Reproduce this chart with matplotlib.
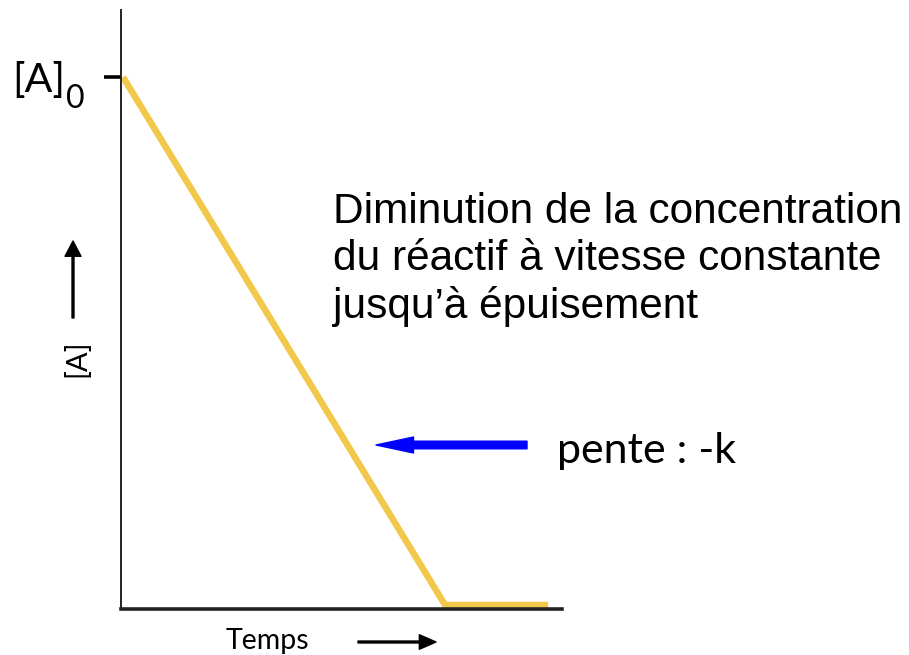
import matplotlib
matplotlib.use("Agg")
import matplotlib.pyplot as plt
from matplotlib.patches import FancyArrowPatch, ArrowStyle

# Data
time = [0, 10, 13.2]
conc = [1, 0, 0]
ytick_vals = [1]
ytick_labels = ["[A]"]
ytick_sub = "0"
x_label = "Temps"
y_label = "[A]"
note_text = "Diminution de la concentration\ndu réactif à vitesse constante\njusqu’à épuisement"
slope_text = "pente : -k"

W, H = 909, 655
fig = plt.figure(figsize=(W / 100, H / 100), dpi=100)

def px(x, y):
    return (x / W, 1 - y / H)

left, right, top, bottom = 121, 562, 10, 609
ax = fig.add_axes([left / W, 1 - bottom / H, (right - left) / W, (bottom - top) / H])
ax.plot(time, conc, color='#F1C84B', lw=4.7, solid_capstyle='butt', solid_joinstyle='round', zorder=2)
ax.set_xlim(-0.062, 13.63)
ax.set_ylim(-0.0076, 1.127)
for s in ['top', 'right']:
    ax.spines[s].set_visible(False)
ax.spines['left'].set_linewidth(1.4)
ax.spines['bottom'].set_linewidth(2.6)
ax.spines['left'].set_color('#222222')
ax.spines['bottom'].set_color('#222222')
ax.set_xticks([])
ax.set_yticks(ytick_vals)
ax.set_yticklabels(ytick_labels, fontsize=29.5, family='Lato')
ax.tick_params(axis='y', direction='out', length=12, width=2.6, pad=28, color='black')
ax.annotate(ytick_sub, xy=(0, ytick_vals[0]), xycoords=('axes fraction', 'data'),
            xytext=(-55, -31), textcoords='offset pixels', fontsize=23, family='Lato',
            ha='left', va='baseline')

# axis labels
fig.text(*px(267, 641), x_label, fontsize=20.5, family='Lato', ha='center', va='center')
fig.text(*px(77, 358), y_label, fontsize=21, family='Lato', ha='center', va='center', rotation=90)

# small black arrows
fig.patches.append(FancyArrowPatch(px(358, 642), px(436, 642), transform=fig.transFigure,
                                   arrowstyle=ArrowStyle.Simple(head_length=12, head_width=10.5, tail_width=1.4),
                                   mutation_scale=1, color='black', shrinkA=0, shrinkB=0))
fig.patches.append(FancyArrowPatch(px(73, 318), px(73, 241), transform=fig.transFigure,
                                   arrowstyle=ArrowStyle.Simple(head_length=11, head_width=11.5, tail_width=1.4),
                                   mutation_scale=1, color='black', shrinkA=0, shrinkB=0))

# blue arrow
fig.patches.append(FancyArrowPatch(px(527, 445), px(376, 445), transform=fig.transFigure,
                                   arrowstyle=ArrowStyle.Simple(head_length=27, head_width=11.5, tail_width=5.5),
                                   mutation_scale=1, color='#0000FF', shrinkA=0, shrinkB=0))

fig.text(*px(333, 192), note_text, fontsize=30.5, family='Liberation Sans', ha='left', va='top',
         linespacing=1.22)
fig.text(*px(557, 463), slope_text, fontsize=31, family='Lato', ha='left', va='baseline')

fig.savefig('out.png', dpi=100)
